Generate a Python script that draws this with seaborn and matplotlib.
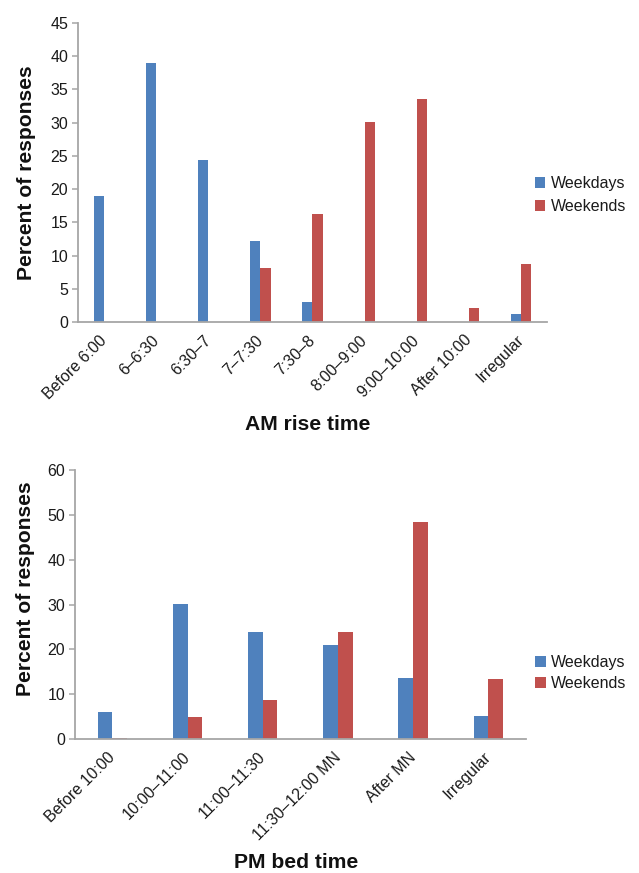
import matplotlib
matplotlib.use("Agg")
import matplotlib.pyplot as plt
import matplotlib.transforms as mtransforms
import seaborn as sns
import pandas as pd

# AM rise time
rise_cats = ['Before 6:00', '6\u20136:30', '6:30\u20137', '7\u20137:30', '7:30\u20138',
             '8:00\u20139:00', '9:00\u201310:00', 'After 10:00', 'Irregular']
rise_weekdays = [19.0, 39.0, 24.4, 12.2, 3.0, 0, 0, 0, 1.2]
rise_weekends = [0, 0, 0, 8.2, 16.2, 30.1, 33.5, 2.1, 8.7]

# PM bed time
bed_cats = ['Before 10:00', '10:00\u201311:00', '11:00\u201311:30',
            '11:30\u201312:00 MN', 'After MN', 'Irregular']
bed_weekdays = [6.0, 30.1, 23.9, 21.0, 13.6, 5.1]
bed_weekends = [0.3, 5.0, 8.8, 23.9, 48.5, 13.4]

series_names = ['Weekdays', 'Weekends']
colors = ['#4F81BD', '#C0504D']


def long_table(cats, wd, we):
    return pd.DataFrame({
        'cat': cats * 2,
        'val': wd + we,
        'series': [series_names[0]] * len(cats) + [series_names[1]] * len(cats),
    })


sns.set_style('white')
plt.rcParams['font.family'] = ['Liberation Sans', 'DejaVu Sans']
plt.rcParams['text.color'] = '#1a1a1a'

FS = 11.5
LFS = 15.2
fig = plt.figure(figsize=(6.39, 8.73), dpi=100)
ax1 = fig.add_axes([0.122, 0.631, 0.734, 0.343])
ax2 = fig.add_axes([0.117, 0.1535, 0.706, 0.3078])


def draw(ax, cats, wd, we, ymax, step, xlabel, xl_coords, yl_coords,
         leg_anchor, leg_space):
    df = long_table(cats, wd, we)
    sns.barplot(data=df, x='cat', y='val', hue='series', order=cats,
                hue_order=series_names, palette=colors, width=0.39,
                gap=0, saturation=1, ax=ax, edgecolor='none')
    ax.set_xlim(-0.5, len(cats) - 0.5)
    ax.set_ylim(0, ymax)
    ax.set_yticks(range(0, ymax + 1, step))
    for s in ['top', 'right']:
        ax.spines[s].set_visible(False)
    for s in ['left', 'bottom']:
        ax.spines[s].set_color('#a6a6a6')
        ax.spines[s].set_linewidth(1.3)
    ax.tick_params(axis='y', left=True, length=4, width=1.1, color='#a6a6a6',
                   labelsize=FS, labelcolor='#1a1a1a', pad=3)
    ax.tick_params(axis='x', bottom=False, labelsize=FS, labelcolor='#1a1a1a', pad=4)
    ax.set_xticks(range(len(cats)))
    ax.set_xticklabels(cats, rotation=45, ha='right', rotation_mode='anchor')
    shift = mtransforms.ScaledTranslation(-5 / 100, 0, fig.dpi_scale_trans)
    for lab in ax.get_xticklabels():
        lab.set_transform(lab.get_transform() + shift)
    ax.set_xlabel(xlabel, fontsize=LFS, fontweight='bold', color='#111111')
    ax.xaxis.set_label_coords(*xl_coords)
    ax.set_ylabel('Percent of responses', fontsize=LFS, fontweight='bold', color='#111111')
    ax.yaxis.set_label_coords(*yl_coords)
    ax.legend(loc='center left', bbox_to_anchor=leg_anchor, frameon=False,
              fontsize=FS, handlelength=0.65, handleheight=0.65,
              handletextpad=0.35, labelspacing=leg_space, borderpad=0, borderaxespad=0)


draw(ax1, rise_cats, rise_weekdays, rise_weekends, 45, 5, 'AM rise time',
     (0.49, -0.31), (-0.09, 0.5), (0.974, 0.424), 0.5)
draw(ax2, bed_cats, bed_weekdays, bed_weekends, 60, 10, 'PM bed time',
     (0.49, -0.425), (-0.088, 0.558), (1.021, 0.245), 0.35)

fig.savefig('out.png', dpi=100, facecolor='white')
